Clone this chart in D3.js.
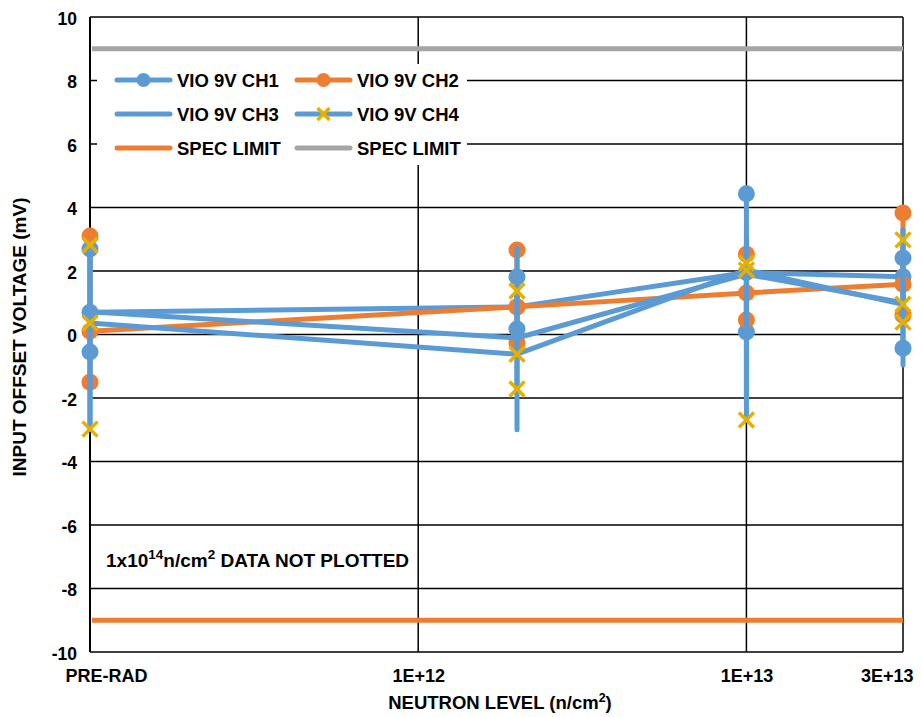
<!DOCTYPE html>
<html><head><meta charset="utf-8">
<script src="https://cdn.jsdelivr.net/npm/d3@7"></script>
<style>
html,body{margin:0;padding:0;background:#fff;}
text{font-family:"Liberation Sans",Arial,sans-serif;font-weight:bold;fill:#000;}
</style></head>
<body>
<svg id="chart" width="922" height="717"></svg>
<script>
// ---- data ----
const levels = [1e11, 2e12, 1e13, 3e13];            // PRE-RAD plotted at 1e11
const xTickValues = [1e11, 1e12, 1e13, 3e13];
const xTickLabels = ["PRE-RAD", "1E+12", "1E+13", "3E+13"];
const yTickValues = [-10, -8, -6, -4, -2, 0, 2, 4, 6, 8, 10];

const ch1Mean = [0.70, 0.87, 1.95, 1.82];
const ch1Max  = [2.69, 1.81, 4.43, 2.41];
const ch1Min  = [-0.55, 0.17, 0.08, -0.43];

const ch2Mean = [0.10, 0.87, 1.31, 1.58];
const ch2Max  = [3.10, 2.66, 2.53, 3.83];
const ch2Min  = [-1.50, -0.27, 0.46, 0.61];

const ch3Mean = [0.72, -0.11, 1.90, 1.00];
const ch3Max  = [2.70, 2.72, 3.00, 3.30];
const ch3Min  = [-2.95, -3.00, -2.00, -0.96];

const ch4Mean = [0.36, -0.62, 2.03, 0.95];
const ch4Max  = [2.82, 1.37, 2.25, 2.98];
const ch4Min  = [-2.98, -1.72, -2.69, 0.39];

const specUpper = 9;
const specLower = -9;

const seriesNames = ["VIO 9V CH1", "VIO 9V CH2", "VIO 9V CH3", "VIO 9V CH4", "SPEC LIMIT", "SPEC LIMIT"];

// ---- setup ----
const BLUE = "#5b9bd5", ORANGE = "#ed7d31", GRAY = "#a5a5a5", GOLD = "#e5b000";
const FONT = "Liberation Sans, Arial, sans-serif";
const svg = d3.select("#chart");
const pLeft = 90, pRight = 903, pTop = 17, pBottom = 652;
const x = d3.scaleLog().domain([1e11, 3e13]).range([pLeft, pRight]);
const y = d3.scaleLinear().domain([-10, 10]).range([pBottom, pTop]);

// gridlines
const g = svg.append("g");
g.selectAll("line.hg").data(yTickValues).enter().append("line")
  .attr("x1", pLeft).attr("x2", pRight)
  .attr("y1", d => y(d)).attr("y2", d => y(d))
  .attr("stroke", "#000").attr("stroke-width", 1.5);
g.selectAll("line.vg").data(xTickValues).enter().append("line")
  .attr("x1", d => x(d)).attr("x2", d => x(d))
  .attr("y1", pTop).attr("y2", pBottom)
  .attr("stroke", "#000").attr("stroke-width", d => d === 1e11 ? 2 : 1.5);

// axes labels via d3 axes
const yAxis = d3.axisLeft(y).tickValues(yTickValues).tickSize(0).tickPadding(13)
  .tickFormat(d => String(d));
const ya = svg.append("g").attr("transform", `translate(${pLeft},0)`).call(yAxis);
ya.select(".domain").remove();
ya.selectAll("text").attr("font-size", 17.5).attr("font-family", FONT).attr("font-weight", "bold").attr("dy", "0.4em");

const xAxis = d3.axisBottom(x).tickValues(xTickValues).tickSize(0).tickPadding(17)
  .tickFormat((d, i) => xTickLabels[i]);
const xa = svg.append("g").attr("transform", `translate(0,${pBottom})`).call(xAxis);
xa.select(".domain").remove();
xa.selectAll("text").attr("font-size", 18).attr("font-family", FONT).attr("font-weight", "bold")
  .attr("text-anchor", (d, i) => i === 0 ? "start" : (i === xTickValues.length - 1 ? "end" : "middle"))
  .attr("dx", (d, i) => i === 0 ? -25 : (i === xTickValues.length - 1 ? 10 : 0));

// axis titles
const xt = svg.append("text").attr("x", 500).attr("y", 709).attr("text-anchor", "middle").attr("font-size", 18.5);
xt.append("tspan").text("NEUTRON LEVEL (n/cm");
xt.append("tspan").attr("font-size", 12.5).attr("dy", -7).text("2");
xt.append("tspan").attr("dy", 7).text(")");
svg.append("text").attr("transform", "translate(26,337) rotate(-90)").attr("text-anchor", "middle")
  .attr("font-size", 19).text("INPUT OFFSET VOLTAGE (mV)");

// series
const series = [
  {mean: ch1Mean, max: ch1Max, min: ch1Min, color: BLUE, marker: "circle", mcolor: BLUE},
  {mean: ch2Mean, max: ch2Max, min: ch2Min, color: ORANGE, marker: "circle", mcolor: ORANGE},
  {mean: ch3Mean, max: ch3Max, min: ch3Min, color: BLUE, marker: null},
  {mean: ch4Mean, max: ch4Max, min: ch4Min, color: BLUE, marker: "x", mcolor: GOLD}
];
const line = d3.line().x(d => x(d[0])).y(d => y(d[1]));
const xPath = r => `M${-r},${-r}L${r},${r}M${-r},${r}L${r},${-r}`;

series.forEach(s => {
  const sg = svg.append("g");
  // range bars
  sg.selectAll("line.bar").data(levels).enter().append("line")
    .attr("x1", d => x(d)).attr("x2", d => x(d))
    .attr("y1", (d, i) => y(s.max[i])).attr("y2", (d, i) => y(s.min[i]))
    .attr("stroke", s.color).attr("stroke-width", 5).attr("stroke-linecap", "round");
  // mean line
  sg.append("path").datum(levels.map((l, i) => [l, s.mean[i]]))
    .attr("d", line).attr("fill", "none").attr("stroke", s.color)
    .attr("stroke-width", 5).attr("stroke-linejoin", "round").attr("stroke-linecap", "round");
  // markers
  if (s.marker) {
    const pts = [];
    levels.forEach((l, i) => { pts.push([l, s.max[i]], [l, s.mean[i]], [l, s.min[i]]); });
    if (s.marker === "circle") {
      sg.selectAll("circle").data(pts).enter().append("circle")
        .attr("cx", d => x(d[0])).attr("cy", d => y(d[1])).attr("r", 8.5).attr("fill", s.mcolor);
    } else {
      sg.selectAll("path.mk").data(pts).enter().append("path")
        .attr("transform", d => `translate(${x(d[0])},${y(d[1])})`)
        .attr("d", xPath(7.5)).attr("stroke", s.mcolor).attr("stroke-width", 3.5).attr("fill", "none");
    }
  }
});

// spec limits
svg.append("line").attr("x1", pLeft + 2).attr("x2", pRight).attr("y1", y(specUpper)).attr("y2", y(specUpper))
  .attr("stroke", GRAY).attr("stroke-width", 5);
svg.append("line").attr("x1", pLeft + 2).attr("x2", pRight).attr("y1", y(specLower)).attr("y2", y(specLower))
  .attr("stroke", ORANGE).attr("stroke-width", 5);

// annotation
const an = svg.append("text").attr("x", 106).attr("y", 567).attr("font-size", 19);
an.append("tspan").text("1x10");
an.append("tspan").attr("font-size", 13.5).attr("dy", -8).text("14");
an.append("tspan").attr("dy", 8).text("n/cm");
an.append("tspan").attr("font-size", 13.5).attr("dy", -8).text("2");
an.append("tspan").attr("dy", 8).text(" DATA NOT PLOTTED");

// legend
const lg = svg.append("g");
lg.append("rect").attr("x", 97).attr("y", 64).attr("width", 370).attr("height", 101).attr("fill", "#fff");
const legendItems = [
  {name: seriesNames[0], color: BLUE, marker: "circle", mcolor: BLUE},
  {name: seriesNames[1], color: ORANGE, marker: "circle", mcolor: ORANGE},
  {name: seriesNames[2], color: BLUE, marker: null},
  {name: seriesNames[3], color: BLUE, marker: "x", mcolor: GOLD},
  {name: seriesNames[4], color: ORANGE, marker: null},
  {name: seriesNames[5], color: GRAY, marker: null}
];
const colX = [117, 297], rowY = [80, 114, 148];
legendItems.forEach((it, i) => {
  const lx = colX[i % 2], ly = rowY[Math.floor(i / 2)];
  const ig = lg.append("g").attr("transform", `translate(${lx},${ly})`);
  ig.append("line").attr("x1", 0).attr("x2", 53).attr("stroke", it.color).attr("stroke-width", 5).attr("stroke-linecap", "round");
  if (it.marker === "circle") ig.append("circle").attr("cx", 26.5).attr("r", 7).attr("fill", it.mcolor);
  if (it.marker === "x") ig.append("path").attr("transform", "translate(26.5,0)").attr("d", xPath(6)).attr("stroke", it.mcolor).attr("stroke-width", 3.5);
  ig.append("text").attr("x", 60).attr("y", 6.5).attr("font-size", 18.5).text(it.name);
});
</script>
</body></html>
